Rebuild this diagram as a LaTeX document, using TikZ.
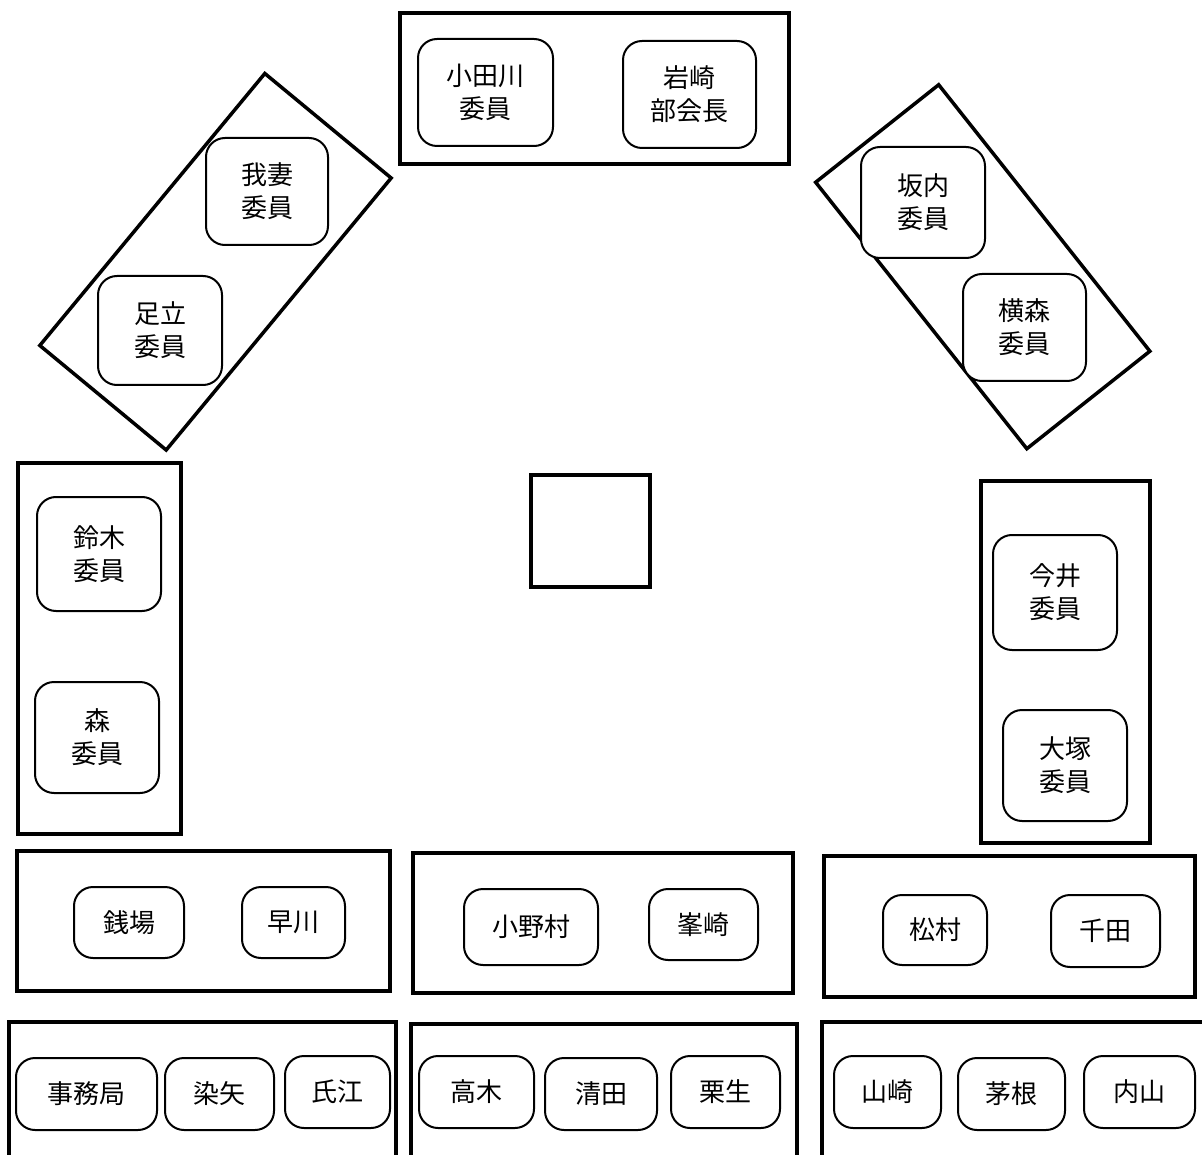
\documentclass[tikz,border=0pt]{standalone}
\usepackage{fontspec}
\newfontfamily\jpfont{Noto Sans CJK JP}

\tikzset{
  frame/.style={draw, line width=3.5pt, inner sep=0pt},
  member/.style={draw, line width=2pt, rounded corners=19pt, fill=white,
    inner sep=0pt, align=center, font=\jpfont\fontsize{26}{33}\selectfont},
}

\begin{document}
\begin{tikzpicture}[x=1pt, y=-1pt]
    \clip (0,0) rectangle (1202,1155);
    % tables
    \foreach \n/\x/\y/\w/\h/\r in {top/594.5/88.5/389/151/0,
        lefttilt/215.5/261.75/353/164/50.4, righttilt/982.75/266.75/340/157/-51.6,
        stage/590.5/531/119/112/0,
        leftcol/99.5/648.5/163/371/0, rightcol/1065.5/662/169/362/0,
        rowA/203.5/921/373/140/0, rowB/603/923/380/140/0, rowC/1009.5/926.5/371/141/0,
        rowD/202.5/1112/387/180/0, rowE/604/1113/386/178/0, rowF/1026/1112/408/180/0} {
      \node[frame, minimum width=\w pt, minimum height=\h pt, rotate=\r] (\n) at (\x,\y) {};
    }
    % seats
    \foreach \n/\x/\y/\w/\h/\t in {odagawa/485.5/92.5/135/107/{小田川\\委員},
        iwasaki/689.5/94.5/133/107/{岩崎\\部会長},
        agatsuma/267/191.5/122/107/{我妻\\委員}, adachi/160/330.5/124/109/{足立\\委員},
        bannai/923/202.5/124/111/{坂内\\委員}, yokomori/1024.5/327.5/123/107/{横森\\委員},
        suzuki/99/554/124/114/{鈴木\\委員}, mori/97/737.5/124/111/{森\\委員},
        imai/1055/592.5/124/115/{今井\\委員}, otsuka/1065/765.5/124/111/{大塚\\委員},
        zeniba/129/922.5/110/71/銭場, hayakawa/293.5/922.5/103/71/早川,
        onomura/531/927/134/76/小野村, minezaki/703.5/924.5/109/71/峯崎,
        matsumura/935/930/104/70/松村, chida/1105.5/931/109/72/千田,
        jimukyoku/86.5/1094/141/72/事務局, someya/219.5/1094/109/72/染矢,
        ujie/337.5/1092/105/72/氏江,
        takagi/476.5/1092/115/72/高木, seita/601/1094/112/72/清田,
        kuryu/725.5/1092/109/72/栗生,
        yamazaki/887.5/1092/107/72/山崎, chine/1011.5/1094/107/72/茅根,
        uchiyama/1139.5/1092/111/72/内山} {
      \node[member, minimum width=\w pt, minimum height=\h pt] (\n) at (\x,\y) {\t};
    }
\end{tikzpicture}
\end{document}
